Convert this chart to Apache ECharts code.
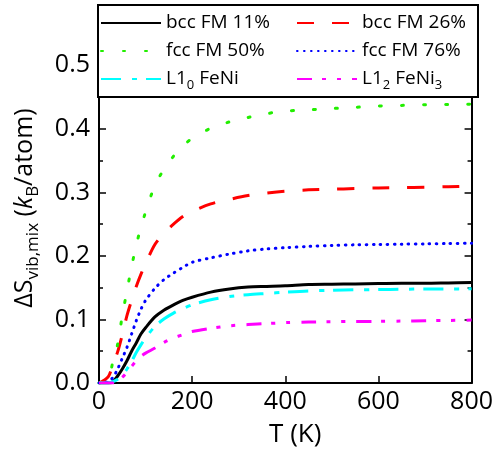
<!DOCTYPE html>
<html><head><meta charset="utf-8">
<script src="https://cdn.jsdelivr.net/npm/echarts@6/dist/echarts.min.js"></script>
<style>html,body{margin:0;padding:0;background:#fff}#c{width:496px;height:453px}</style>
</head><body><div id="c"></div>
<script>
// Temperature grid (K)
const T = [0, 20, 30, 40, 50, 60, 70, 80, 90, 100, 120, 140, 160, 180, 200, 240, 280, 320, 360, 400, 450, 500, 550, 600, 650, 700, 750, 800];
// Series values (kB/atom)
const bccFM11 = [0, 0, 0.002, 0.011, 0.022, 0.035, 0.05, 0.063, 0.077, 0.087, 0.104, 0.115, 0.123, 0.13, 0.135, 0.143, 0.148, 0.151, 0.152, 0.153, 0.155, 0.1555, 0.156, 0.1565, 0.157, 0.157, 0.1575, 0.158];
const bccFM26 = [0, 0.01, 0.03, 0.049, 0.076, 0.106, 0.13, 0.152, 0.171, 0.188, 0.218, 0.236, 0.25, 0.262, 0.27, 0.282, 0.289, 0.295, 0.299, 0.302, 0.304, 0.305, 0.306, 0.307, 0.3075, 0.308, 0.309, 0.31];
const fccFM50 = [0, 0.008, 0.034, 0.061, 0.106, 0.145, 0.183, 0.217, 0.245, 0.269, 0.311, 0.337, 0.357, 0.373, 0.385, 0.401, 0.411, 0.418, 0.424, 0.428, 0.43, 0.432, 0.434, 0.436, 0.437, 0.438, 0.4385, 0.439];
const fccFM76 = [0, 0.002, 0.009, 0.022, 0.039, 0.056, 0.077, 0.098, 0.116, 0.13, 0.149, 0.163, 0.173, 0.182, 0.19, 0.197, 0.203, 0.208, 0.211, 0.213, 0.215, 0.2165, 0.2175, 0.218, 0.2185, 0.219, 0.2195, 0.22];
const L10FeNi = [0, 0, 0.002, 0.006, 0.012, 0.022, 0.034, 0.048, 0.06, 0.071, 0.089, 0.101, 0.11, 0.117, 0.123, 0.131, 0.136, 0.139, 0.141, 0.143, 0.145, 0.146, 0.1467, 0.147, 0.1475, 0.148, 0.148, 0.1485];
const L12FeNi3 = [0, 0, 0, 0.003, 0.009, 0.017, 0.026, 0.035, 0.042, 0.047, 0.055, 0.064, 0.071, 0.076, 0.081, 0.086, 0.09, 0.092, 0.0935, 0.095, 0.096, 0.0965, 0.097, 0.097, 0.0975, 0.098, 0.0985, 0.099];
// Tick labels
const xTickLabels = ['0', '200', '400', '600', '800'];
const yTickLabels = ['0.0', '0.1', '0.2', '0.3', '0.4', '0.5'];
// Legend names
const names = ['bcc FM 11%', 'bcc FM 26%', 'fcc FM 50%', 'fcc FM 76%', 'L10 FeNi', 'L12 FeNi3'];

const FONT = 'Open Sans';
const pair = arr => T.map((t, i) => [t, arr[i]]);

const seriesDefs = [
  {name: names[0], data: bccFM11, color: '#000000', type: 'solid', cap: 'butt'},
  {name: names[1], data: bccFM26, color: '#ff0000', type: [17, 18], cap: 'butt'},
  {name: names[2], data: fccFM50, color: '#22ee00', type: [2, 20], cap: 'round'},
  {name: names[3], data: fccFM76, color: '#0000ff', type: [0.6, 6.4], cap: 'round'},
  {name: names[4], data: L10FeNi, color: '#00ffff', type: [20, 11, 5, 9], cap: 'butt'},
  {name: names[5], data: L12FeNi3, color: '#ff00ff', type: [15, 10, 4, 11, 4, 11], cap: 'butt'}
];

const legendText = {
  'bcc FM 11%': 'bcc FM 11%',
  'bcc FM 26%': 'bcc FM 26%',
  'fcc FM 50%': 'fcc FM 50%',
  'fcc FM 76%': 'fcc FM 76%',
  'L10 FeNi': 'L1{s|0} FeNi',
  'L12 FeNi3': 'L1{s|2} FeNi{s|3}'
};

const chart = echarts.init(document.getElementById('c'), null, {renderer: 'canvas'});
const axisCommon = {
  axisLine: {show: true, onZero: false, lineStyle: {color: '#000', width: 2}},
  splitLine: {show: false},
};
chart.setOption({
  animation: false,
  backgroundColor: '#fff',
  grid: {left: 98, right: 24, top: 5, bottom: 70, containLabel: false},
  legend: {
    left: 98, top: 5, width: 380,
    orient: 'horizontal',
    itemWidth: 60, itemHeight: 14, itemGap: 2,
    padding: [5, 4, 5, 2],
    backgroundColor: '#fff', borderColor: '#000', borderWidth: 2,
    z: 10,
    itemStyle: {color: 'rgba(0,0,0,0)', borderColor: 'rgba(0,0,0,0)', borderWidth: 0},
    data: names.map((n, i) => ({name: n, textStyle: {width: i % 2 === 0 ? 128 : 112}})),
    formatter: n => legendText[n],
    textStyle: {
      fontFamily: FONT, fontSize: 19, color: '#000', lineHeight: 26,
      rich: {s: {fontFamily: FONT, fontSize: 13, lineHeight: 14, verticalAlign: 'bottom', color: '#000'}}
    }
  },
  xAxis: Object.assign({}, axisCommon, {
    type: 'value', min: 0, max: 800, interval: 200,
    name: 'T (K)', nameLocation: 'middle', nameGap: 39,
    nameTextStyle: {fontFamily: FONT, fontSize: 26, color: '#000', lineHeight: 26, padding: [0, 0, 0, 20]},
    axisTick: {show: true, inside: true, length: 7, lineStyle: {color: '#000', width: 1.5}},
    axisLabel: {fontFamily: FONT, fontSize: 25, color: '#000', margin: 6,
      formatter: v => xTickLabels[Math.round(v / 200)] ?? ''}
  }),
  yAxis: [
    Object.assign({}, axisCommon, {
      type: 'value', min: 0, max: 0.595, interval: 0.1, position: 'left',
      name: 'ΔS{s|vib,mix} ({i|k}{s|B}/atom)', nameLocation: 'middle', nameGap: 57, nameRotate: 90,
      nameTextStyle: {fontFamily: FONT, fontSize: 25, color: '#000', lineHeight: 34, padding: [0, 28, 0, 0],
        rich: {
          s: {fontFamily: FONT, fontSize: 17, lineHeight: 16, verticalAlign: 'bottom', color: '#000'},
          i: {fontFamily: FONT, fontSize: 25, fontStyle: 'italic', color: '#000'}
        }},
      axisTick: {show: true, inside: true, length: 7, lineStyle: {color: '#000', width: 1.5}},
      minorTick: {show: true, splitNumber: 2, length: 4, lineStyle: {color: '#000', width: 1.5}},
      axisLabel: {fontFamily: FONT, fontSize: 25, color: '#000', margin: 9, showMaxLabel: false,
        formatter: v => { const k = Math.round(v * 10); return Math.abs(v * 10 - k) < 1e-6 ? (yTickLabels[k] ?? '') : ''; }}
    }),
    Object.assign({}, axisCommon, {
      type: 'value', min: 0, max: 0.595, interval: 0.1, position: 'right',
      axisTick: {show: true, inside: true, length: 7, lineStyle: {color: '#000', width: 1.5}},
      minorTick: {show: true, splitNumber: 2, length: 4, lineStyle: {color: '#000', width: 1.5}},
      axisLabel: {show: false}
    })
  ],
  series: seriesDefs.map(s => ({
    name: s.name, type: 'line', yAxisIndex: 0, smooth: 0.3, symbol: 'none',
    data: pair(s.data), color: s.color,
    lineStyle: {color: s.color, width: 3, type: s.type, cap: s.cap},
    itemStyle: {color: s.color}
  }))
});
</script></body></html>
